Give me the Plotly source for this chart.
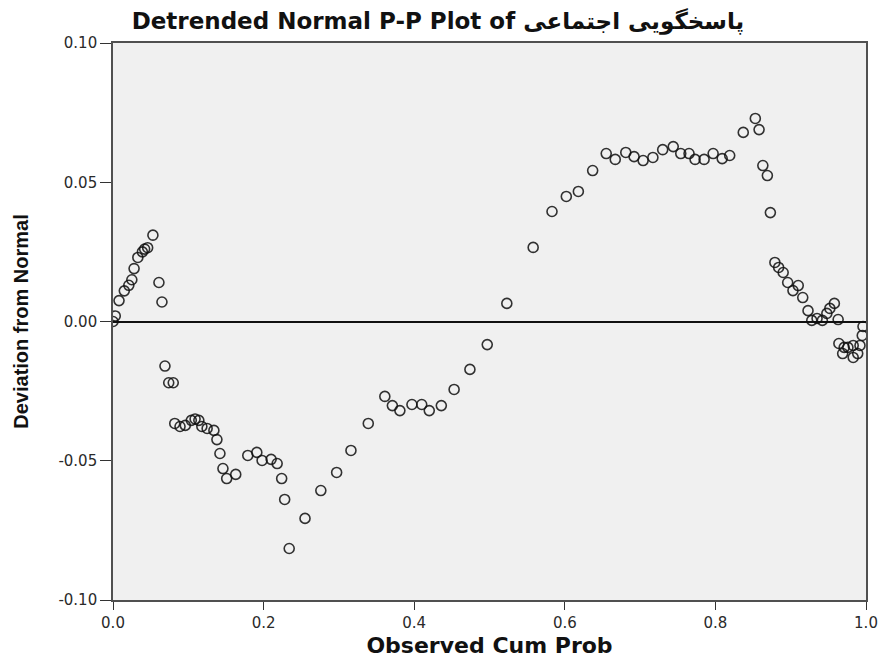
import plotly.graph_objects as go

obs_cum_prob = [
    0.000, 0.003, 0.008, 0.015, 0.021, 0.025, 0.028, 0.033, 0.039, 0.042, 0.046, 0.053,
    0.061, 0.065, 0.069, 0.074, 0.080,
    0.082, 0.089, 0.096, 0.104, 0.109, 0.114, 0.118, 0.125, 0.134, 0.138, 0.142, 0.146,
    0.151, 0.163, 0.179, 0.191, 0.198, 0.210, 0.218, 0.224, 0.228, 0.234, 0.255, 0.276,
    0.297, 0.316, 0.339, 0.361, 0.371, 0.381, 0.397, 0.410, 0.420, 0.436, 0.453, 0.474,
    0.497, 0.523, 0.558, 0.583, 0.602, 0.618, 0.637, 0.655, 0.667, 0.681, 0.692, 0.704,
    0.717, 0.730, 0.744, 0.754, 0.765, 0.773, 0.785, 0.797, 0.809, 0.819, 0.837, 0.853,
    0.858, 0.863, 0.869, 0.873, 0.879, 0.884, 0.890, 0.896, 0.903, 0.910, 0.916, 0.923,
    0.928, 0.935, 0.942, 0.948, 0.952, 0.958, 0.963, 0.964, 0.969, 0.971, 0.976, 0.983,
    0.983, 0.989, 0.992, 0.995, 0.996,
]
deviation = [
    0.0000, 0.0020, 0.0075, 0.0110, 0.0130, 0.0150, 0.0190, 0.0230, 0.0250, 0.0260, 0.0265, 0.0310,
    0.0140, 0.0070, -0.0160, -0.0220, -0.0220,
    -0.0366, -0.0377, -0.0373, -0.0355, -0.0350, -0.0355, -0.0377, -0.0384, -0.0391, -0.0424, -0.0474, -0.0528,
    -0.0564, -0.0549, -0.0481, -0.0470, -0.0499, -0.0495, -0.0510, -0.0564, -0.0639, -0.0815, -0.0707, -0.0607,
    -0.0542, -0.0463, -0.0366, -0.0269, -0.0302, -0.0320, -0.0298, -0.0298, -0.0320, -0.0302, -0.0244, -0.0172,
    -0.0083, 0.0065, 0.0266, 0.0395, 0.0449, 0.0467, 0.0542, 0.0603, 0.0582, 0.0607, 0.0592, 0.0578,
    0.0589, 0.0617, 0.0628, 0.0603, 0.0603, 0.0582, 0.0582, 0.0603, 0.0585, 0.0596, 0.0679, 0.0729,
    0.0689, 0.0560, 0.0524, 0.0391, 0.0212, 0.0194, 0.0176, 0.0140, 0.0111, 0.0129, 0.0086, 0.0039,
    0.0004, 0.0011, 0.0004, 0.0029, 0.0047, 0.0065, 0.0007, -0.0079, -0.0115, -0.0093, -0.0093, -0.0086,
    -0.0129, -0.0115, -0.0086, -0.0050, -0.0018,
]

x_ticks = [0.0, 0.2, 0.4, 0.6, 0.8, 1.0]
x_tick_labels = ["0.0", "0.2", "0.4", "0.6", "0.8", "1.0"]
y_ticks = [-0.10, -0.05, 0.00, 0.05, 0.10]
y_tick_labels = ["-0.10", "-0.05", "0.00", "0.05", "0.10"]

title_text = "Detrended Normal P-P Plot of پاسخگویی اجتماعی"
x_title = "Observed Cum Prob"
y_title = "Deviation from Normal"

fig = go.Figure()
fig.add_trace(go.Scatter(
    x=obs_cum_prob, y=deviation, mode="markers",
    marker=dict(symbol="circle-open", size=10,
                line=dict(width=1.6, color="rgba(15,15,15,0.85)"),
                color="rgba(15,15,15,0.85)"),
    showlegend=False, hoverinfo="x+y",
))

tick_font = dict(family="DejaVu Sans, sans-serif", size=15, color="#2a2a2a")
axis_common = dict(
    showgrid=False, showline=True, linecolor="#505050", linewidth=1.6, mirror=True,
    ticks="outside", tickwidth=1.4, tickcolor="#333333", tickfont=tick_font,
    automargin=False,
)

fig.update_layout(
    width=883, height=658,
    margin=dict(l=113, r=17, t=43, b=58),
    paper_bgcolor="white", plot_bgcolor="#F0F0F0",
    title=dict(text="<b>" + title_text + "</b>", x=0.496, xanchor="center",
               y=0.968, yanchor="middle",
               font=dict(family="DejaVu Sans, sans-serif", size=23, color="#111111")),
    xaxis=dict(range=[0, 1], tickvals=x_ticks, ticktext=x_tick_labels, zeroline=False,
               ticklen=8,
               title=dict(text="<b>" + x_title + "</b>", standoff=22,
                          font=dict(family="DejaVu Sans, sans-serif", size=22, color="#111111")),
               **axis_common),
    yaxis=dict(range=[-0.10, 0.10], tickvals=y_ticks, ticktext=y_tick_labels,
               ticklen=11,
               zeroline=True, zerolinecolor="#111111", zerolinewidth=1.6,
               title=dict(text="<b>" + y_title + "</b>", standoff=24,
                          font=dict(family="Liberation Sans, Arial, sans-serif", size=20, color="#111111")),
               **axis_common),
)

fig.write_html(
    "out.html",
    config={"displayModeBar": False},
    post_script="document.body.style.margin='0';document.body.style.overflow='hidden';",
)
